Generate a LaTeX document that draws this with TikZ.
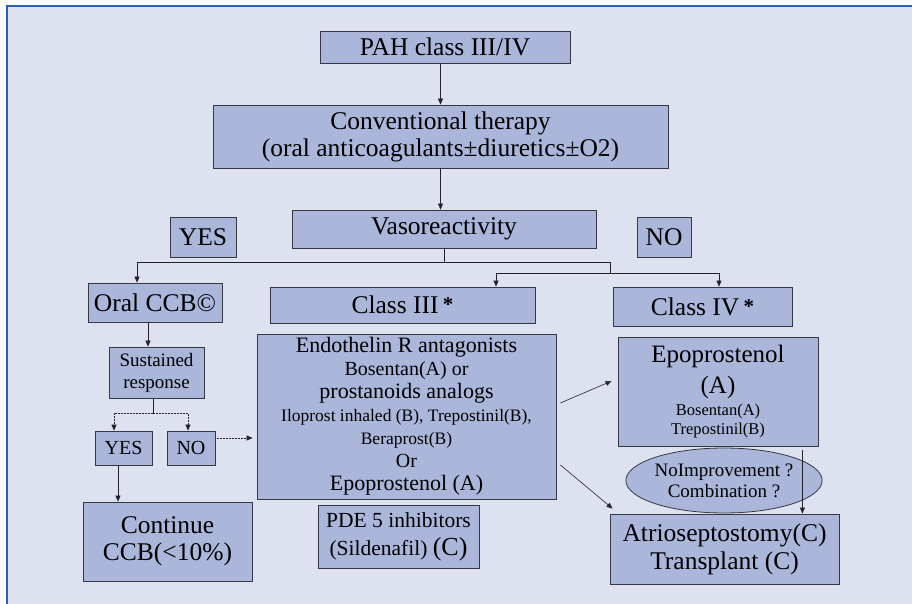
\documentclass[tikz,border=0pt]{standalone}
\usepackage{fontspec}
\setmainfont{Liberation Serif}
\usetikzlibrary{arrows.meta,shapes.geometric}
\definecolor{panel}{RGB}{222,225,240}
\definecolor{boxfill}{RGB}{170,182,218}
\definecolor{boxline}{RGB}{55,55,65}
\definecolor{linecol}{RGB}{35,35,40}
\definecolor{frameblue}{RGB}{40,100,175}
\newcommand\classmark{\,\raisebox{2pt}{\fontsize{21}{21}\selectfont\textbf{*}}}
\begin{document}
\begin{tikzpicture}[x=1pt,y=-1pt]
	\tikzset{
		box/.style={draw=boxline, fill=boxfill, line width=0.8pt, inner sep=0pt, align=center},
		bubble/.style={box, ellipse},
		bigtext/.style={font=\fontsize{25.5}{27}\selectfont},
		midtext/.style={font=\fontsize{20}{22}\selectfont},
		smalltext/.style={font=\fontsize{17.5}{23}\selectfont},
		arr/.style={draw=linecol, line width=0.6pt, -{Triangle[length=6pt,width=5pt]}},
		fork/.style={draw=linecol, line width=0.6pt},
		faint/.style={dash pattern=on 2pt off 1pt},
	}
	\useasboundingbox (0,0) rectangle (912,604);
	% Panel and its blue edge
	\fill[panel] (7,6) rectangle (912,604);
	\draw[frameblue, line width=2pt] (7,604) -- (7,6) -- (912,6);
	
	% Top of the chart
	\node[box, bigtext, minimum width=250pt, minimum height=32pt] (pah) at (445,47) {PAH class III/IV};
	\node[box, bigtext, minimum width=455pt, minimum height=63pt] (conv) at (440.5,136.5)
		{Conventional therapy\\(oral anticoagulants±diuretics±O2)};
	\node[box, bigtext, minimum width=304pt, minimum height=38pt] (vaso) at (444,229) {Vasoreactivity};
	\node[box, bigtext, minimum width=66pt, minimum height=40pt] (yes) at (203,237) {YES};
	\node[box, bigtext, minimum width=54pt, minimum height=40pt] (no) at (664,237) {NO};
	
	% Responders (left column)
	\node[box, bigtext, minimum width=134pt, minimum height=39pt] (oral) at (155,302.5) {Oral CCB©};
	\node[box, font=\fontsize{19}{22}\selectfont, minimum width=95pt, minimum height=51pt] (sust) at (156.5,372.5)
		{Sustained\\response};
	\node[box, midtext, minimum width=57pt, minimum height=34pt] (yes2) at (123.5,448) {YES};
	\node[box, midtext, minimum width=48pt, minimum height=34pt] (no2) at (191,448) {NO};
	\node[box, bigtext, minimum width=169pt, minimum height=79pt] (cont) at (167.5,541.5)
		{Continue\\CCB(<10\%)};
	
	% Class III (middle column)
	\node[box, bigtext, minimum width=265pt, minimum height=36pt] (c3) at (402.5,305) {Class III\classmark};
	\node[box, smalltext, minimum width=299pt, minimum height=165pt] (detail) at (406.5,416.5)
		{{\fontsize{22}{23}\selectfont Endothelin R antagonists}\\
		 {\fontsize{20}{23}\selectfont Bosentan(A) or}\\
		 {\fontsize{22}{23}\selectfont prostanoids analogs}\\
		 Iloprost inhaled (B), Trepostinil(B),\\
		 Beraprost(B)\\
		 {\fontsize{20}{23}\selectfont Or}\\
		 {\fontsize{22}{23}\selectfont Epoprostenol (A)}};
	\node[box, font=\fontsize{21.5}{28}\selectfont, minimum width=161pt, minimum height=63pt] (pde) at (398.5,536.5)
		{PDE 5 inhibitors\\(Sildenafil) {\fontsize{26}{28}\selectfont(C)}};
	
	% Class IV (right column)
	\node[box, bigtext, minimum width=179pt, minimum height=39pt] (c4) at (702.5,306.5) {Class IV\classmark};
	\node[box, font=\fontsize{16.5}{19}\selectfont, minimum width=200pt, minimum height=109pt] (epo) at (718,391.5)
		{{\fontsize{25}{30}\selectfont Epoprostenol}\\[6.7pt]
		 {\fontsize{25}{30}\selectfont (A)}\\[3pt]
		 Bosentan(A)\\
		 Trepostinil(B)};
	\node[bubble, font=\fontsize{19}{21}\selectfont, minimum width=188pt, minimum height=65pt] (retry) at (724,480.5)
		{NoImprovement ?\\Combination ?};
	\node[box, font=\fontsize{25.5}{28}\selectfont, minimum width=229pt, minimum height=70pt] (atrio) at (724.5,549)
		{Atrioseptostomy(C)\\Transplant (C)};
	
	% Branch points
	\coordinate (vsplit) at (444,262);
	\coordinate (nosplit) at (610,262);
	\coordinate (nosplitlow) at (610,273);
	\coordinate (ssplit) at (153,413);
	
	% Draw the connectors
	\draw[arr] (conv.north |- pah.south) -- (conv.north);
	\draw[arr] (conv.south) -- (conv.south |- vaso.north);
	\draw[fork] (vaso.south) -- (vsplit);
	\draw[arr] (nosplit) -| ([xshift=-18pt]oral.north);
	\draw[fork] (nosplit) -- (nosplitlow);
	\draw[arr] (nosplitlow) -| ([xshift=93.5pt]c3.north);
	\draw[arr] (nosplitlow) -| ([xshift=16.5pt]c4.north);
	\draw[arr] ([xshift=-7pt]oral.south) -- ([xshift=-7pt]oral.south |- sust.north);
	\draw[fork] (sust.south -| ssplit) -- (ssplit);
	\draw[arr, faint] (ssplit) -| ([xshift=-9.5pt]yes2.north);
	\draw[arr, faint] (ssplit) -| ([xshift=-3pt]no2.north);
	\draw[arr] ([xshift=-5.5pt]yes2.south) -- ([xshift=-5.5pt]yes2.south |- cont.north);
	\draw[arr, faint] ([xshift=2pt,yshift=10pt]no2.east) -- ([xshift=-4pt,yshift=10pt]no2.east -| detail.west);
	\draw[arr] ([xshift=4pt,yshift=13.5pt]detail.east) -- ([xshift=-6pt,yshift=10.5pt]epo.west);
	\draw[arr] ([xshift=4pt,yshift=-48.5pt]detail.east) -- ([xshift=3pt,yshift=5pt]atrio.north west);
	\draw[arr] ([xshift=-16pt,yshift=-4pt]epo.south east) -- ([xshift=-16pt]epo.south east |- atrio.north);
\end{tikzpicture}
\end{document}
